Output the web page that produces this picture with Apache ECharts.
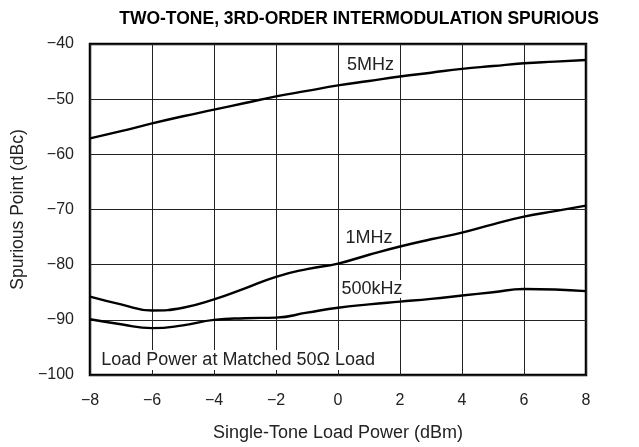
<!DOCTYPE html>
<html>
<head>
<meta charset="utf-8">
<script src="https://cdn.jsdelivr.net/npm/echarts@6/dist/echarts.min.js"></script>
<style>
  html, body { margin: 0; padding: 0; background: #fff; }
  #chart { width: 639px; height: 447px; }
</style>
</head>
<body>
<div id="chart"></div>
<script>
// load power (dBm)
var xValues = [-8, -7, -6, -5, -4, -3, -2, -1, 0, 1, 2, 3, 4, 5, 6, 7, 8];
var mhz5 = [-57.1, -55.8, -54.4, -53.1, -51.9, -50.7, -49.5, -48.5, -47.5, -46.7, -45.9, -45.2, -44.5, -44.0, -43.5, -43.2, -42.9];
var mhz1 = [-85.8, -87.2, -88.3, -87.8, -86.3, -84.3, -82.2, -80.8, -79.8, -78.2, -76.7, -75.4, -74.2, -72.7, -71.3, -70.3, -69.3];
var khz500 = [-89.9, -90.8, -91.5, -91.0, -90.0, -89.7, -89.6, -88.7, -87.8, -87.2, -86.7, -86.2, -85.6, -85.0, -84.4, -84.5, -84.8];
var curveLabels = [
    { text: '5MHz', x: 1.05, y: -43.9 },
    { text: '1MHz', x: 1.0, y: -75.2 },
    { text: '500kHz', x: 1.1, y: -84.4 }
];
var noteText = 'Load Power at Matched 50\u03A9 Load';

function pairs(ys) {
    return xValues.map(function (x, i) { return [x, ys[i]]; });
}
function minus(v) {
    return String(v).replace('-', '\u2212');
}

var myChart = echarts.init(document.getElementById('chart'));
var lineStyle = { color: '#000', width: 2.4 };
var option = {
    animation: false,
    title: {
        text: 'TWO-TONE, 3RD-ORDER INTERMODULATION SPURIOUS',
        left: 354,
        textAlign: 'center',
        top: 5,
        textStyle: { fontFamily: 'Liberation Sans', fontWeight: 'bold', fontSize: 17.5, color: '#000' }
    },
    grid: {
        left: 90, right: 53, top: 44, bottom: 69,
        show: true, borderColor: '#000', borderWidth: 2.5
    },
    xAxis: {
        type: 'value', min: -8, max: 8, interval: 2,
        name: 'Single-Tone Load Power (dBm)',
        nameLocation: 'middle', nameGap: 49,
        nameTextStyle: { fontFamily: 'Liberation Sans', fontSize: 18, color: '#222' },
        axisLine: { show: false },
        axisTick: { show: false },
        axisLabel: { margin: 18, fontFamily: 'Liberation Sans', fontSize: 16, color: '#222', formatter: minus },
        splitLine: { lineStyle: { color: '#222', width: 1 } }
    },
    yAxis: {
        type: 'value', min: -100, max: -40, interval: 10,
        name: 'Spurious Point (dBc)',
        nameLocation: 'middle', nameGap: 54,
        nameTextStyle: { fontFamily: 'Liberation Sans', fontSize: 17.5, color: '#222' },
        axisLine: { show: false },
        axisTick: { show: false },
        axisLabel: { margin: 16, fontFamily: 'Liberation Sans', fontSize: 16, color: '#222', formatter: minus },
        splitLine: { lineStyle: { color: '#222', width: 1 } }
    },
    series: [
        { name: '5MHz', type: 'line', smooth: true, showSymbol: false, lineStyle: lineStyle, data: pairs(mhz5) },
        { name: '1MHz', type: 'line', smooth: true, showSymbol: false, lineStyle: lineStyle, data: pairs(mhz1) },
        { name: '500kHz', type: 'line', smooth: true, showSymbol: false, lineStyle: lineStyle, data: pairs(khz500) }
    ]
};
myChart.setOption(option);

// curve labels and note, placed at data coordinates
var textStyleBase = { fontFamily: 'Liberation Sans', fontSize: 18, fill: '#222' };
var graphics = curveLabels.map(function (item) {
    var p = myChart.convertToPixel({ gridIndex: 0 }, [item.x, item.y]);
    return {
        type: 'text', x: p[0], y: p[1],
        style: Object.assign({ text: item.text, align: 'center', verticalAlign: 'middle', backgroundColor: '#fff', padding: [0, 2] }, textStyleBase)
    };
});
var np = myChart.convertToPixel({ gridIndex: 0 }, [-7.7, -97.3]);
graphics.push({
    type: 'text', x: np[0], y: np[1],
    style: Object.assign({ text: noteText, align: 'left', verticalAlign: 'middle', backgroundColor: '#fff', padding: [1, 2] }, textStyleBase)
});
myChart.setOption({ graphic: graphics });
</script>
</body>
</html>
